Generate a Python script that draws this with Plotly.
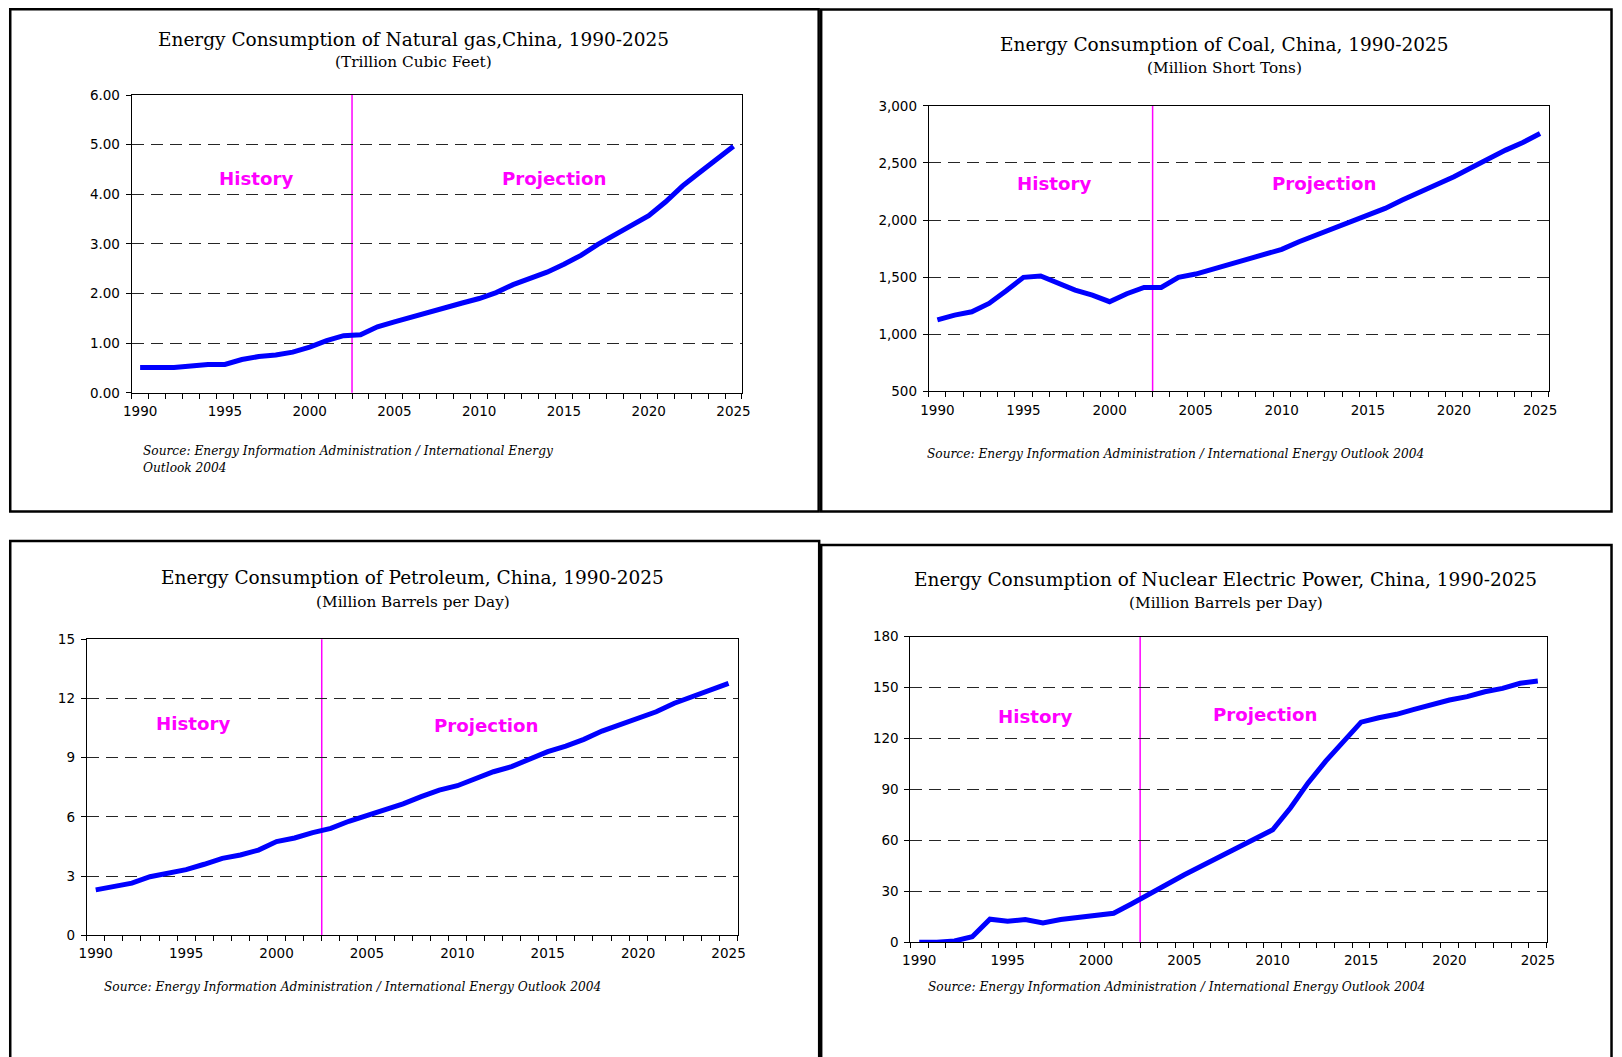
import plotly.graph_objects as go

# ---------------- data ----------------
years = list(range(1990, 2026))
gas = [0.51, 0.51, 0.51, 0.54, 0.57, 0.57, 0.67, 0.73, 0.76, 0.82, 0.92, 1.05,
       1.15, 1.17, 1.33, 1.43, 1.53, 1.62, 1.72, 1.81, 1.90, 2.02, 2.18, 2.31,
       2.43, 2.59, 2.77, 2.99, 3.18, 3.39, 3.57, 3.85, 4.17, 4.44, 4.71, 4.97]
coal = [1126, 1168, 1197, 1270, 1381, 1498, 1510, 1451, 1387, 1343, 1285, 1355,
        1410, 1410, 1498, 1527, 1571, 1614, 1655, 1699, 1743, 1810, 1868, 1918,
        1985, 2037, 2102, 2175, 2242, 2306, 2379, 2457, 2539, 2612, 2679, 2758]
petroleum = [2.30, 2.47, 2.64, 2.97, 3.14, 3.33, 3.60, 3.90, 4.07, 4.32, 4.75, 4.93,
             5.20, 5.42, 5.78, 6.06, 6.39, 6.66, 7.03, 7.36, 7.58, 7.96, 8.29, 8.55,
             8.92, 9.31, 9.59, 9.93, 10.35, 10.66, 11.00, 11.33, 11.76, 12.09, 12.43, 12.77]
nuclear = [0, 0, 0.8, 3.3, 13.6, 12.4, 13.4, 11.4, 13.4, 14.4, 16.1, 17.1,
           22.6, 28.5, 33.9, 39.8, 45.1, 50.6, 56.1, 60.8, 66.3, 79.1, 93.9, 106.7,
           118.5, 129.7, 132.3, 134.3, 137.2, 140.2, 142.7, 144.7, 147.6, 149.6, 152.6, 153.9]

x_ticks = [1990, 1995, 2000, 2005, 2010, 2015, 2020, 2025]
history_end = 2002.5

titles = ["Energy Consumption of Natural gas,China, 1990-2025",
          "Energy Consumption of Coal, China, 1990-2025",
          "Energy Consumption of Petroleum, China, 1990-2025",
          "Energy Consumption of Nuclear Electric Power, China, 1990-2025"]
subtitles = ["(Trillion Cubic Feet)", "(Million Short Tons)",
             "(Million Barrels per Day)", "(Million Barrels per Day)"]
y_ranges = [[0, 6], [500, 3000], [0, 15], [0, 180]]
y_dticks = [1, 500, 3, 30]
y_formats = [".2f", ",", "d", "d"]
source_lines = [["Source: Energy Information Administration / International Energy", "Outlook 2004"],
                ["Source: Energy Information Administration / International Energy Outlook 2004"],
                ["Source: Energy Information Administration / International Energy Outlook 2004"],
                ["Source: Energy Information Administration / International Energy Outlook 2004"]]
series = [gas, coal, petroleum, nuclear]

# ---------------- layout geometry (target image pixels) ----------------
W, H = 1622, 1057
PAD, SX, SY = 8, 0.990, 0.985   # capture offset / scale observed for the page
plot_boxes = [  # left, right, top, bottom
    (130.7, 741.7, 95.0, 392.7),
    (928.7, 1549.3, 105.7, 391.3),
    (85.7, 737.3, 639.3, 935.3),
    (910.3, 1547.3, 636.7, 942.3),
]
title_pos = [(413, 39, 62), (1225, 44, 68), (412, 577, 602), (1226, 579, 603)]
hist_pos = [(255, 178), (1054, 183), (192, 723), (1035, 716)]
proj_pos = [(554, 178), (1325, 183), (486, 725), (1266, 714)]
source_pos = [(140, 451), (925, 454), (101, 987), (926, 987)]
panel_borders = [(6.5, 818.5, 5, 511.5), (821, 1620.5, 9.5, 511.5),
                 (6.5, 819, 541, 1080), (821, 1640, 545, 1080)]


def fx(x):
    return x / SX - PAD


def fy(y):
    return y / SY - PAD


def px(x):
    return fx(x) / W


def py(y):
    return 1 - fy(y) / H


def px_clamped(x):
    return min(max(fx(x), 1.25), W - 1.5) / W


def py_clamped(y):
    return 1 - min(max(fy(y), 1.25), H + 40) / H


fig = go.Figure()
annotations = []
shapes = []

for i in range(4):
    n = i + 1
    xa = "xaxis" if n == 1 else f"xaxis{n}"
    ya = "yaxis" if n == 1 else f"yaxis{n}"
    xr = "x" if n == 1 else f"x{n}"
    yr = "y" if n == 1 else f"y{n}"
    l, r, t, b = plot_boxes[i]

    fig.add_trace(go.Scatter(
        x=years, y=series[i], mode="lines", xaxis=xr, yaxis=yr,
        line=dict(color="#0000FF", width=5), showlegend=False, hoverinfo="skip"))

    fig.layout[xa] = dict(
        domain=[px(l), px(r)], anchor=yr, range=[1989.5, 2025.5],
        tickmode="array", tickvals=x_ticks, ticktext=[str(v) for v in x_ticks],
        ticks="", ticklabelstandoff=6,
        minor=dict(ticks="outside", tickmode="array",
                   tickvals=[y - 0.5 for y in years] + [2025.5],
                   ticklen=5, tickcolor="black", tickwidth=1, showgrid=False),
        showline=True, linecolor="black", linewidth=1, mirror=True,
        showgrid=False, zeroline=False,
        tickfont=dict(family="DejaVu Sans", size=13.5, color="black"))

    fig.layout[ya] = dict(
        domain=[py(b), py(t)], anchor=xr, range=y_ranges[i],
        tick0=y_ranges[i][0], dtick=y_dticks[i], tickformat=y_formats[i],
        ticks="outside", ticklen=5, tickcolor="black", ticklabelstandoff=3,
        showline=True, linecolor="black", linewidth=1, mirror=True,
        showgrid=True, gridcolor="#262626", gridwidth=1.2, griddash="12px,7px",
        zeroline=False,
        tickfont=dict(family="DejaVu Sans", size=13.5, color="black"))

    shapes.append(dict(type="line", xref=xr, yref=f"{yr} domain",
                       x0=history_end, x1=history_end, y0=0, y1=1,
                       line=dict(color="#FF00FF", width=1.5), layer="below"))

    tx, ty, sy = title_pos[i]
    annotations.append(dict(text=titles[i], x=px(tx), y=py(ty), xref="paper", yref="paper",
                            xanchor="center", yanchor="middle", showarrow=False,
                            font=dict(family="DejaVu Serif", size=18.5, color="black")))
    annotations.append(dict(text=subtitles[i], x=px(tx), y=py(sy), xref="paper", yref="paper",
                            xanchor="center", yanchor="middle", showarrow=False,
                            font=dict(family="DejaVu Serif", size=15.3, color="black")))
    hx, hy = hist_pos[i]
    annotations.append(dict(text="History", x=px(hx), y=py(hy), xref="paper", yref="paper",
                            xanchor="center", yanchor="middle", showarrow=False,
                            font=dict(family="DejaVu Sans", size=18.2, color="#FF00FF",
                                      weight="bold")))
    qx, qy = proj_pos[i]
    annotations.append(dict(text="Projection", x=px(qx), y=py(qy), xref="paper", yref="paper",
                            xanchor="center", yanchor="middle", showarrow=False,
                            font=dict(family="DejaVu Sans", size=18.2, color="#FF00FF",
                                      weight="bold")))
    sx, sy0 = source_pos[i]
    for k, line in enumerate(source_lines[i]):
        annotations.append(dict(text=line, x=px(sx), y=py(sy0 + 16.5 * k), xref="paper",
                                yref="paper", xanchor="left", yanchor="middle", showarrow=False,
                                font=dict(family="DejaVu Serif", size=12.2, color="black",
                                          style="italic")))

    bl, br, bt, bb = panel_borders[i]
    shapes.append(dict(type="rect", xref="paper", yref="paper",
                       x0=px_clamped(bl), x1=px_clamped(br),
                       y0=py_clamped(bb), y1=py_clamped(bt),
                       line=dict(color="black", width=2.5), fillcolor="rgba(0,0,0,0)",
                       layer="above"))

fig.update_layout(
    width=W, height=H, margin=dict(l=0, r=0, t=0, b=0),
    paper_bgcolor="white", plot_bgcolor="white",
    annotations=annotations, shapes=shapes, showlegend=False)

fig.write_html("out.html", config={"displayModeBar": False},
               post_script="document.body.style.margin='0';document.body.style.overflow='hidden';")
